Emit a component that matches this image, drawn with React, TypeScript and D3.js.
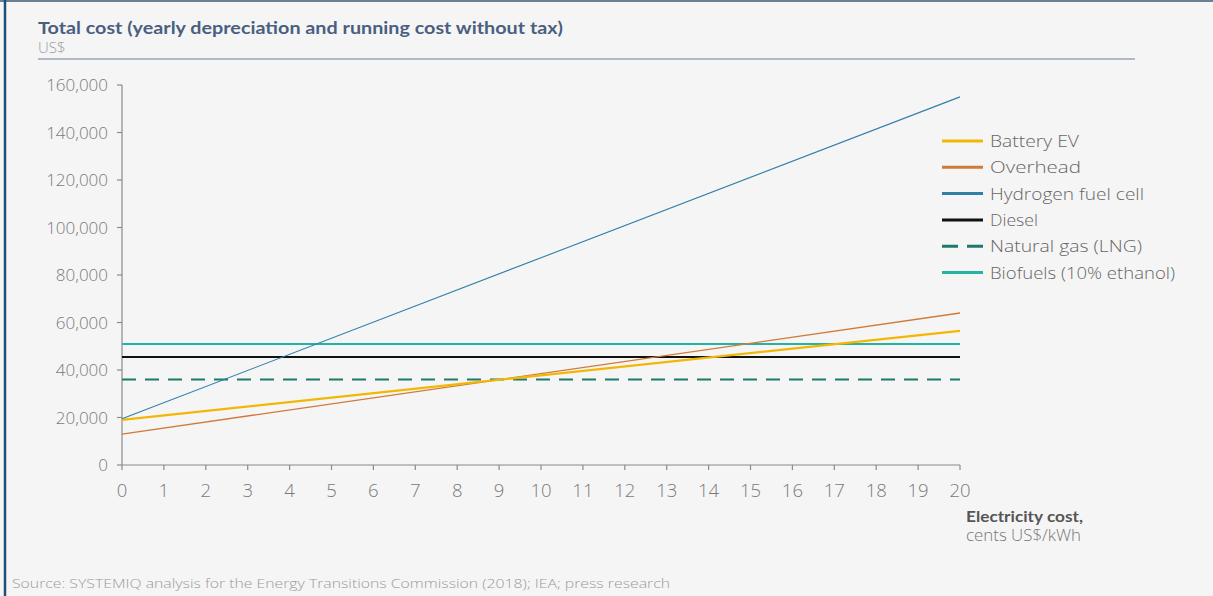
import React from "react";
import * as d3 from "d3";

const xTicks = d3.range(0, 21);
const yTicks = [0, 20000, 40000, 60000, 80000, 100000, 120000, 140000, 160000];

const seriesNames = ["Battery EV", "Overhead", "Hydrogen fuel cell", "Diesel", "Natural gas (LNG)", "Biofuels (10% ethanol)"];
const seriesX = [0, 20];
const batteryEV = [19000, 56500];
const overhead = [13000, 64000];
const hydrogen = [19500, 155000];
const diesel = [45500, 45500];
const lng = [36000, 36000];
const biofuels = [51000, 51000];

const seriesValues = [batteryEV, overhead, hydrogen, diesel, lng, biofuels];
const seriesColors = ["#f2b705", "#d07a3a", "#2f7fa8", "#111111", "#1b7a6c", "#22b3a3"];
const seriesWidths = [2.2, 1.3, 1.1, 2, 2, 2];
const seriesDash = [null, null, null, null, "14,9", null];
const legendTextLen = [89, 91, 154, 48, 152, 185];

const W = 1213;
const H = 596;
const margin = { left: 122, right: 960, top: 85, bottom: 465 };

export default function App() {
  const x = d3.scaleLinear().domain([0, 20]).range([margin.left, margin.right]);
  const y = d3.scaleLinear().domain([0, 160000]).range([margin.bottom, margin.top]);
  const line = d3.line<number>().x((_, i) => x(seriesX[i])).y((d) => y(d));
  const fmt = d3.format(",");
  const font = "Lato, 'DejaVu Sans', sans-serif";
  const light = "'Open Sans', Lato, sans-serif";
  const drawOrder = [4, 3, 5, 1, 0, 2];

  return (
    <svg width={W} height={H} style={{ position: "fixed", left: 0, top: 0, background: "#f5f5f5" }} fontFamily={font}>
      <rect x={0} y={0} width={W} height={H} fill="#f5f5f5" />
      <line x1={0} x2={W} y1={1} y2={1} stroke="#3b5a73" strokeWidth={1.5} />
      <line x1={5} x2={5} y1={0} y2={H} stroke="#1f4e79" strokeWidth={2.5} />

      <text x={38} y={34} fontSize={17} fontWeight="bold" fill="#4a5f80" textLength={525} lengthAdjust="spacingAndGlyphs">
        Total cost (yearly depreciation and running cost without tax)
      </text>
      <text x={38} y={53} fontSize={15} fontFamily={light} fontWeight={300} fill="#9a9a9a">US$</text>
      <line x1={38} x2={1135} y1={59} y2={59} stroke="#6b7f96" strokeWidth={1} />

      {/* axes */}
      <line x1={margin.left} x2={margin.left} y1={y(160000)} y2={y(0)} stroke="#8a8a8a" strokeWidth={1.2} />
      <line x1={margin.left} x2={margin.right} y1={y(0)} y2={y(0)} stroke="#8a8a8a" strokeWidth={1.2} />
      {yTicks.map((t) => (
        <g key={"y" + t}>
          <line x1={margin.left - 5} x2={margin.left} y1={y(t)} y2={y(t)} stroke="#8a8a8a" strokeWidth={1.2} />
          <text x={108} y={y(t) + 6} fontSize={17} fontFamily={light} fontWeight={300} fill="#7a7a7a" textAnchor="end">{fmt(t)}</text>
        </g>
      ))}
      {xTicks.map((t) => (
        <g key={"x" + t}>
          <line x1={x(t)} x2={x(t)} y1={y(0)} y2={y(0) + 5} stroke="#8a8a8a" strokeWidth={1.2} />
          <text x={x(t)} y={497} fontSize={18.5} fontFamily={light} fontWeight={300} fill="#7a7a7a" textAnchor="middle">{t}</text>
        </g>
      ))}
      <text x={966} y={522} fontSize={15} fontWeight="bold" fill="#555" textLength={117} lengthAdjust="spacingAndGlyphs">Electricity  cost,</text>
      <text x={966} y={541} fontSize={16} fontFamily={light} fontWeight={300} fill="#777" textLength={115} lengthAdjust="spacingAndGlyphs">cents US$/kWh</text>

      {/* series */}
      {drawOrder.map((i) => (
        <path
          key={seriesNames[i]}
          d={line(seriesValues[i]) || ""}
          fill="none"
          stroke={seriesColors[i]}
          strokeWidth={seriesWidths[i]}
          strokeDasharray={seriesDash[i] || undefined}
        />
      ))}

      {/* legend */}
      {seriesNames.map((n, i) => {
        const ly = 141 + i * 26.3;
        return (
          <g key={"l" + n}>
            <line x1={942} x2={983} y1={ly} y2={ly} stroke={seriesColors[i]} strokeWidth={3} strokeDasharray={i === 4 ? "16,9" : undefined} />
            <text x={990} y={ly + 6} fontSize={17} fontFamily={light} fontWeight={300} fill="#666" textLength={legendTextLen[i]} lengthAdjust="spacingAndGlyphs">{n}</text>
          </g>
        );
      })}

      <text x={12} y={588} fontSize={13} fontFamily={light} fontWeight={300} fill="#9a9a9a" textLength={658} lengthAdjust="spacingAndGlyphs">
        Source: SYSTEMIQ analysis for the Energy Transitions Commission  (2018); IEA; press research
      </text>
    </svg>
  );
}
